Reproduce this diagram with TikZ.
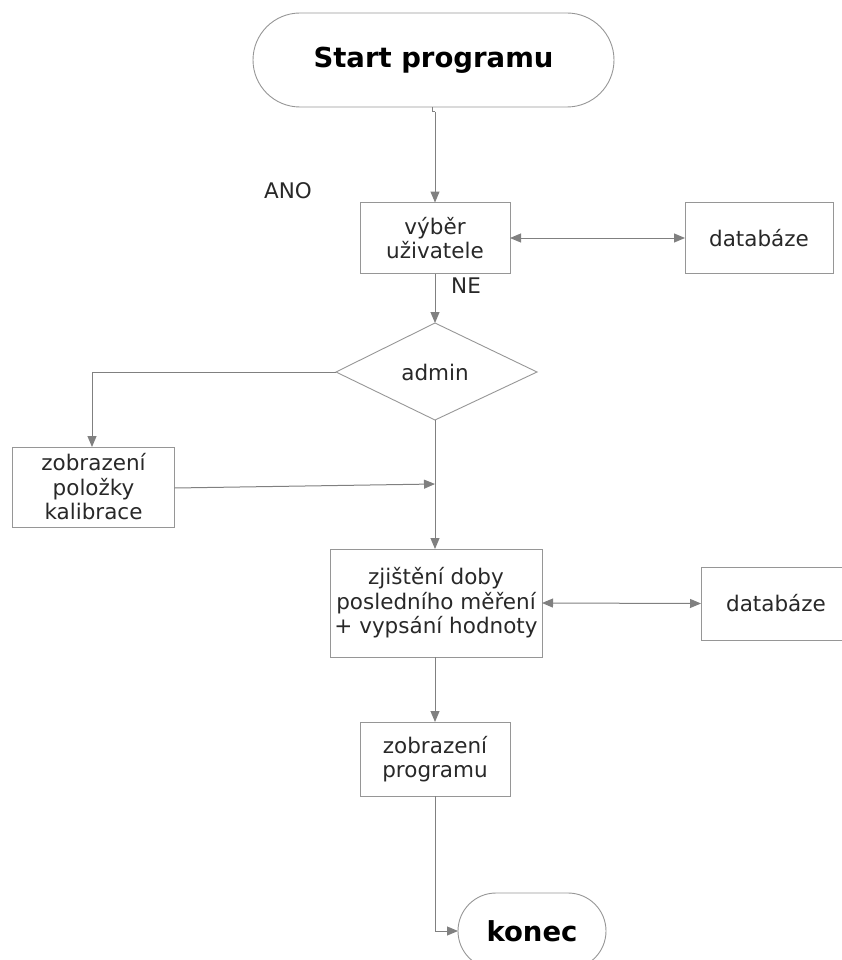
\documentclass[tikz,border=0pt]{standalone}
\usepackage{fontspec}
\setmainfont{DejaVu Sans}
\usetikzlibrary{arrows.meta}
\definecolor{linegray}{RGB}{128,128,128}
\definecolor{boxgray}{RGB}{150,150,150}
\definecolor{txtgray}{RGB}{40,40,40}
\begin{document}
\begin{tikzpicture}[x=1pt,y=-1pt,
  every node/.style={inner sep=0pt,outer sep=0pt},
  procbox/.style={draw=boxgray,line width=0.9pt,rectangle,align=center,
    text=txtgray,font=\fontsize{21.5}{24.5}\selectfont},
  terminal/.style={draw=boxgray,line width=0.9pt,rectangle,align=center,
    text=black,font=\fontsize{27.5}{30}\selectfont\bfseries},
  decision/.style={text=txtgray,font=\fontsize{21.5}{24.5}\selectfont},
  lbl/.style={text=txtgray,font=\fontsize{21.5}{24}\selectfont},
  flow/.style={draw=linegray,line width=1pt,-{Triangle[length=11pt,width=9pt]}},
  twoway/.style={draw=linegray,line width=1pt,
    {Triangle[length=11pt,width=9pt]}-{Triangle[length=11pt,width=9pt]}},
  plain/.style={draw=linegray,line width=1pt}]
\useasboundingbox (0,0) rectangle (841,960);

% terminals
\node[terminal,minimum width=361pt,minimum height=94pt,rounded corners=47pt]
  (start) at (433.5,60) {Start programu};
\node[terminal,minimum width=148pt,minimum height=76pt,rounded corners=38pt]
  (konec) at (532,931) {konec};

% process boxes
\node[procbox,minimum width=150pt,minimum height=71pt] (vyber) at (435,238)
  {výběr\\uživatele};
\node[procbox,minimum width=148pt,minimum height=71pt] (db1) at (759,238)
  {databáze};
\node[procbox,minimum width=162pt,minimum height=80pt] (kalib) at (93.5,487)
  {zobrazení\\položky\\kalibrace};
\node[procbox,minimum width=212pt,minimum height=108pt] (zjist) at (436,603)
  {zjištění doby\\posledního měření\\+ vypsání hodnoty};
\node[procbox,minimum width=150pt,minimum height=73pt] (db2) at (776,603.5)
  {databáze};
\node[procbox,minimum width=150pt,minimum height=74pt] (prog) at (435,759)
  {zobrazení\\programu};

% decision
\coordinate (dtop) at (435,323);
\coordinate (dbot) at (435,420);
\coordinate (dleft) at (336,372);
\coordinate (dright) at (537,372);
\draw[boxgray,line width=0.9pt] (dtop) -- (dright) -- (dbot) -- (dleft) -- cycle;
\node[decision] (admin) at (435,372) {admin};

% labels
\node[lbl] (ano) at (288,191) {ANO};
\node[lbl] (ne) at (466,286) {NE};

% helper points
\coordinate (s1) at (432,112);
\coordinate (s2) at (435,112);
\coordinate (kalcorner) at (92,372);
\coordinate (join) at (435,484);
\coordinate (kcorner) at (435,931);

% connectors
\draw[plain] (start.south -| s1) -- (s1) -- (s2);
\draw[flow] (s2) -- (vyber.north);
\draw[twoway] (vyber.east) -- (db1.west);
\draw[flow] (vyber.south) -- (dtop);
\draw[flow] (dleft) -- (kalcorner) -- (kalib.north -| kalcorner);
\draw[flow] (kalib.east |- 0,488) -- (join);
\draw[flow] (dbot) -- (zjist.north -| dbot);
\draw[twoway] (zjist.east) -- (db2.west);
\draw[flow] (zjist.south -| prog.south) -- (prog.north);
\draw[flow] (prog.south) -- (kcorner) -- (konec.west);
\end{tikzpicture}
\end{document}
